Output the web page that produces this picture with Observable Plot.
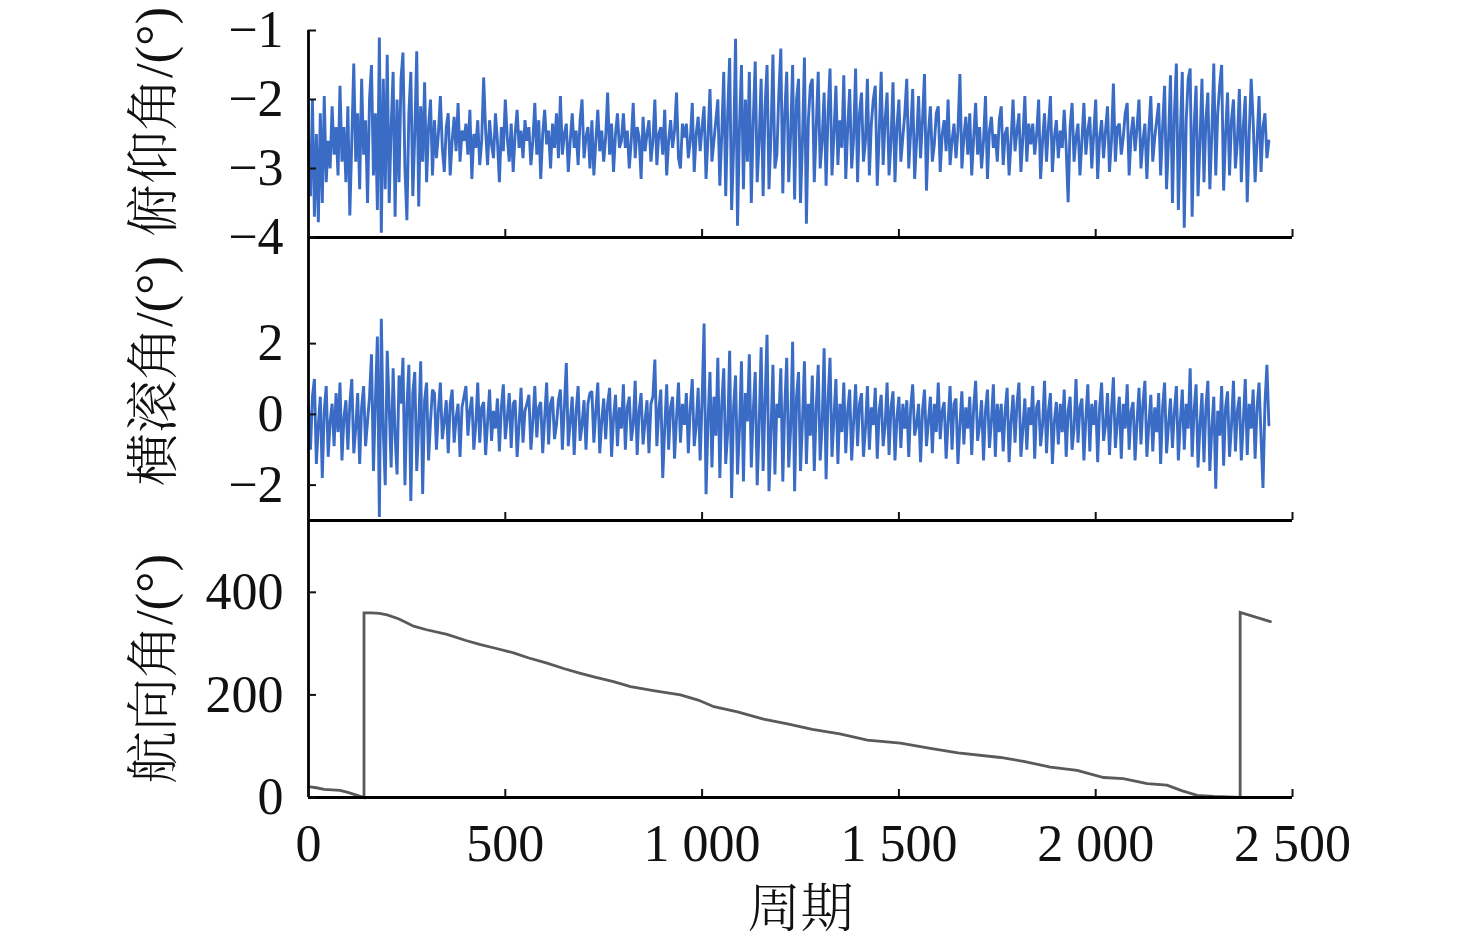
<!DOCTYPE html>
<html><head><meta charset="utf-8">
<script src="https://cdn.jsdelivr.net/npm/d3@7"></script>
<script src="https://cdn.jsdelivr.net/npm/@observablehq/plot@0.6"></script>
<style>
body{margin:0;background:#fff;}
#chart{position:relative;width:1476px;height:945px;}
#chart svg{position:absolute;left:0;overflow:visible;}
</style></head><body><div id="chart"></div>
<script>
// sampling step of the noisy series (cycles per sample)
const cycleStep = 5;

const pitch = [
-2.6,-3.4,-2.0,-3.7,-2.5,-3.78,-2.2,-3.5,-1.95,-3.2,-2.6,-3.0,-2.1,-2.8,-2.4,-3.1,
-1.8,-2.9,-2.4,-3.2,-2.1,-3.68,-2.6,-1.48,-2.9,-2.2,-3.3,-1.7,-2.8,-2.3,-3.5,-2.0,
-1.5,-3.1,-2.2,-3.6,-1.1,-3.93,-1.7,-3.3,-1.35,-3.5,-2.4,-1.6,-3.7,-2.0,-3.2,-1.7,
-1.32,-3.0,-3.75,-2.2,-1.6,-3.4,-2.5,-1.3,-3.55,-2.1,-2.9,-1.75,-3.2,-2.4,-2.0,-3.1,
-2.3,-2.85,-2.5,-1.95,-2.7,-3.05,-2.4,-2.2,-3.1,-2.6,-2.25,-2.75,-2.05,-2.9,-2.45,-2.6,
-2.35,-2.8,-2.15,-3.15,-2.5,-2.7,-2.3,-2.95,-2.6,-1.68,-2.45,-2.95,-2.3,-2.65,-2.85,-2.2,
-2.6,-3.2,-2.4,-2.75,-2.0,-2.55,-2.9,-2.35,-3.05,-2.5,-2.15,-2.7,-2.45,-2.85,-2.3,-2.6,
-2.4,-2.95,-2.6,-2.05,-2.8,-2.3,-3.15,-2.5,-2.15,-2.65,-2.45,-3.0,-2.35,-2.7,-2.2,-2.85,
-1.95,-2.8,-2.5,-2.35,-3.05,-2.6,-2.2,-2.7,-2.45,-2.95,-2.3,-2.0,-2.85,-2.55,-2.4,-3.0,
-2.3,-3.1,-2.6,-2.15,-2.75,-2.45,-2.9,-2.55,-1.9,-2.8,-2.35,-3.05,-2.5,-2.2,-2.7,-2.6,
-2.2,-2.7,-2.45,-3.0,-2.6,-2.05,-2.85,-2.4,-2.55,-3.15,-2.25,-2.75,-2.5,-2.3,-2.9,-2.6,
-2.0,-2.95,-2.5,-2.4,-2.8,-2.15,-3.1,-2.6,-2.3,-2.7,-2.45,-1.9,-2.85,-3.0,-2.35,-2.55,
-2.35,-2.85,-2.6,-2.05,-3.05,-2.5,-2.25,-2.75,-2.4,-2.1,-3.15,-2.55,-1.85,-2.9,-2.6,-2.3,
-2.0,-3.25,-2.5,-1.6,-3.4,-2.2,-1.4,-3.6,-2.7,-1.12,-3.83,-2.4,-1.5,-3.3,-2.0,-2.9,
-1.6,-3.5,-2.3,-1.45,-3.2,-2.6,-1.7,-3.4,-2.1,-1.5,-3.3,-2.5,-1.35,-3.0,-2.8,-1.9,
-1.26,-3.36,-2.2,-1.6,-3.2,-2.5,-1.5,-3.45,-2.0,-1.7,-3.5,-2.6,-1.39,-3.8,-2.3,-1.8,
-1.7,-3.2,-2.4,-1.6,-3.0,-2.6,-1.9,-3.25,-2.2,-1.55,-3.1,-2.5,-1.8,-2.95,-2.3,-2.7,
-1.65,-3.15,-2.4,-1.85,-3.0,-2.55,-1.55,-3.2,-2.2,-1.9,-2.9,-2.6,-1.7,-3.1,-2.35,-2.0,
-1.8,-3.25,-2.5,-1.6,-2.95,-2.3,-1.9,-3.1,-2.6,-1.75,-3.2,-2.4,-2.0,-2.9,-2.55,-2.2,
-1.7,-3.0,-2.45,-1.85,-3.15,-2.6,-1.95,-2.85,-2.3,-1.63,-3.32,-2.5,-2.1,-2.9,-2.65,-2.2,
-2.1,-3.05,-2.5,-2.3,-2.75,-2.0,-2.95,-2.6,-2.35,-2.85,-2.45,-1.63,-3.0,-2.55,-2.25,-2.8,
-2.2,-3.1,-2.55,-2.05,-2.8,-2.4,-3.0,-2.6,-1.95,-3.15,-2.45,-2.25,-2.7,-2.5,-2.9,-2.3,
-2.1,-2.95,-2.5,-2.4,-3.1,-2.6,-2.0,-2.75,-2.45,-2.2,-3.05,-2.55,-1.95,-2.9,-2.35,-2.65,
-2.35,-2.8,-2.5,-2.0,-3.15,-2.6,-2.2,-2.9,-2.4,-1.95,-3.05,-2.55,-2.3,-2.85,-2.45,-2.7,
-2.15,-2.7,-3.49,-2.4,-2.05,-2.9,-2.55,-2.35,-3.1,-2.6,-2.05,-2.8,-2.45,-2.25,-3.0,-2.5,
-2.0,-3.15,-2.55,-2.3,-2.85,-2.45,-2.1,-3.05,-2.6,-1.77,-2.9,-2.4,-2.35,-2.8,-2.55,-2.2,
-2.05,-3.1,-2.5,-2.25,-2.75,-2.4,-2.0,-3.0,-2.6,-2.35,-3.15,-2.45,-1.95,-2.9,-2.55,-2.3,
-2.05,-3.1,-2.4,-1.8,-3.3,-2.6,-1.65,-3.5,-2.2,-1.48,-3.6,-2.5,-1.6,-3.86,-2.3,-1.7,
-1.55,-3.7,-2.4,-1.8,-3.4,-2.6,-1.7,-3.2,-2.3,-1.9,-3.3,-2.5,-1.48,-3.1,-2.2,-1.8,
-1.5,-3.32,-2.5,-1.9,-3.1,-2.3,-2.0,-3.0,-2.6,-1.85,-3.2,-2.4,-1.95,-3.49,-2.5,-1.7,
-2.3,-3.2,-2.6,-1.95,-3.05,-2.4,-2.2,-2.85,-2.6
];

const roll = [
0.2,-1.0,0.5,1.0,-1.4,-0.3,0.5,-1.8,0.1,0.8,-1.2,-0.2,0.3,-0.9,0.6,-0.5,
0.9,-1.3,-0.1,0.4,-1.0,0.3,1.0,-1.1,-0.4,0.6,-1.4,0.2,0.8,-0.9,-0.2,0.5,
1.7,-1.6,0.4,2.2,-2.9,2.7,-0.5,-2.0,1.8,0.2,-1.5,1.3,-0.6,-1.7,1.1,0.3,
1.6,-2.0,0.2,1.4,-2.45,0.6,1.2,-1.6,-0.3,1.5,-2.25,0.4,0.9,-1.3,-0.2,0.7,
0.6,-1.0,0.1,0.9,-0.7,-0.2,0.4,-1.1,0.3,0.7,-0.8,-0.1,0.3,-1.2,0.2,0.5,
0.8,-0.6,0.1,0.5,-1.0,-0.3,0.9,-0.8,0.2,0.35,-1.15,-0.2,0.7,-0.75,0.1,-0.4,
0.45,-1.05,0.2,0.85,-0.7,-0.1,0.6,-0.95,0.3,0.4,-1.2,-0.3,0.75,-0.8,0.1,0.3,
0.55,-1.0,-0.2,0.8,-0.65,0.2,0.35,-1.1,-0.1,0.9,-0.85,0.3,0.5,-0.7,-0.3,0.4,
0.7,-1.0,0.2,1.45,-0.9,-0.2,0.5,-1.15,0.1,0.8,-0.75,-0.3,0.4,-1.0,0.3,0.6,
0.65,-0.8,0.1,0.9,-1.1,-0.2,0.45,-0.7,0.3,0.75,-1.2,-0.1,0.55,-0.9,0.2,-0.4,
0.85,-1.0,0.2,0.5,-0.75,-0.3,0.95,-1.15,0.1,0.6,-0.85,-0.2,0.4,-1.1,0.3,0.5,
1.55,-0.9,0.1,0.7,-1.8,-0.4,0.85,-1.0,0.2,0.5,-1.25,-0.1,0.9,-0.8,0.3,-0.3,
0.6,-1.1,0.2,1.0,-0.9,-0.3,0.75,-1.3,0.4,2.57,-2.26,-0.2,1.2,-1.5,0.5,-0.6,
1.6,-1.8,0.3,1.3,-1.4,-0.5,1.8,-2.36,0.2,1.1,-1.7,-0.4,1.5,-1.9,0.6,-0.2,
1.7,-1.5,0.1,1.2,-2.0,-0.3,1.9,-1.6,0.4,2.25,-2.17,-0.5,1.4,-1.7,0.3,-0.1,
1.3,-1.9,0.2,1.6,-1.5,-0.4,2.05,-2.17,0.5,1.2,-1.6,-0.2,1.5,-1.4,0.3,-0.6,
1.1,-1.6,0.2,1.4,-1.3,-0.3,1.87,-1.83,0.4,1.6,-1.2,-0.1,1.0,-1.4,0.3,-0.5,
0.9,-1.1,0.1,0.7,-1.3,-0.2,0.85,-0.9,0.3,0.6,-1.2,-0.4,0.8,-1.0,0.2,-0.3,
0.75,-1.25,0.1,0.55,-0.9,-0.3,0.9,-1.15,0.2,0.65,-1.3,-0.1,0.5,-0.95,0.3,-0.4,
0.4,-1.2,0.2,0.85,-0.6,-0.3,0.3,-1.35,0.1,0.7,-0.9,-0.2,0.5,-1.1,0.3,-0.5,
0.9,-0.7,0.1,0.35,-1.25,-0.2,0.8,-1.0,0.3,0.45,-1.4,-0.3,0.65,-0.85,0.2,-0.4,
0.5,-1.15,0.2,0.95,-0.75,-0.3,0.4,-1.3,0.1,0.7,-0.95,-0.2,0.85,-1.2,0.3,-0.5,
0.3,-1.05,0.1,0.75,-1.35,-0.2,0.55,-0.8,0.3,0.9,-1.2,-0.4,0.45,-1.0,0.2,-0.3,
0.8,-1.25,0.2,0.4,-0.9,-0.3,0.95,-1.1,0.1,0.6,-1.4,-0.2,0.35,-0.85,0.3,-0.5,
0.7,-1.2,0.1,0.5,-1.0,-0.4,1.0,-0.8,0.2,0.45,-1.3,-0.1,0.85,-1.05,0.3,-0.3,
0.4,-1.35,0.2,0.9,-0.75,-0.3,0.6,-1.15,0.1,1.05,-0.95,-0.2,0.5,-1.25,0.3,-0.4,
0.85,-1.0,0.1,0.35,-1.3,-0.2,0.75,-0.85,0.3,0.95,-1.2,-0.3,0.55,-1.05,0.2,-0.5,
0.6,-1.4,0.2,0.9,-1.1,-0.3,0.45,-0.95,0.1,0.8,-1.3,-0.2,0.7,-1.0,0.3,-0.4,
1.3,-1.2,0.1,0.85,-1.5,-0.3,0.6,-1.35,0.2,0.95,-1.6,-0.4,0.5,-2.1,0.1,-0.6,
0.8,-1.45,0.2,0.65,-1.2,-0.3,0.95,-1.05,0.1,0.5,-1.3,-0.2,1.0,-1.15,0.3,-0.4,
0.7,-1.25,0.2,0.9,-0.6,-2.08,0.3,1.4,-0.3
];

const headingCycle = [0,20,40,60,80,100,120,141,141,160,180,200,230,267,300,352,400,437,480,521,560,606,650,691,730,775,818,880,945,990,1030,1090,1156,1220,1280,1350,1420,1504,1580,1650,1758,1820,1885,1953,2020,2070,2131,2181,2220,2258,2300,2367,2367,2444];
const headingDeg   = [21,19,16,15,14,10,5,0,360,360,359,356,348,334,327,318,306,298,290,282,272,262,251,242,234,226,216,208,200,190,177,167,153,143,133,124,112,106,96,87,78,70,59,53,39,37,27,24,13,4,2,0,361,343];

const xTicks = [0,500,1000,1500,2000,2500];
const pitchTicks = [-1,-2,-3,-4];
const rollTicks = [-2,0,2];
const headingTicks = [0,200,400];
const yLabels = ["俯仰角/(°)","横滚角/(°)","航向角/(°)"];
const xLabel = "周期";

const FONT = '"Liberation Serif","Times New Roman","Noto Serif CJK SC","Noto Sans CJK SC",serif';
const fmtY = d => d3.format("d")(d);
const fmtX = d => d >= 1000 ? Math.floor(d/1000) + " " + String(d % 1000).padStart(3,"0") : String(d);

const pitchData = pitch.map((v,i) => ({c: i*cycleStep, v}));
const rollData = roll.map((v,i) => ({c: i*cycleStep, v}));
const headingData = headingCycle.map((c,i) => ({c, v: headingDeg[i]}));

function panel({data, yDomain, yTicks, top, height, mTop, mBottom, color, sw, label, labelDy, showX}) {
  const marks = [
    Plot.line(data, {x: "c", y: "v", stroke: color, strokeWidth: sw, strokeLinejoin: "miter", strokeMiterlimit: 2}),
    Plot.ruleX([0], {stroke: "#000", strokeWidth: 2.8}),
    Plot.ruleY([yDomain[0]], {stroke: "#000", strokeWidth: 2.8}),
    Plot.axisY({ticks: yTicks, tickSize: -8, tickPadding: 33, tickFormat: fmtY, fontSize: 52, strokeWidth: 2, label: null}),
    Plot.axisX({ticks: xTicks, tickSize: -8, tickPadding: 35, tickFormat: showX ? fmtX : () => "", fontSize: 52, strokeWidth: 2, label: null}),
    Plot.text([label], {frameAnchor: "left", textAnchor: "middle", lineAnchor: "middle", dx: -153, dy: labelDy, rotate: -90, fontSize: 53, fontWeight: 300, fill: "#111"})
  ];
  if (showX) marks.push(Plot.text([xLabel], {frameAnchor: "bottom", textAnchor: "middle", lineAnchor: "middle", dy: 113, fontSize: 53, fontWeight: 300, fill: "#111"}));
  const svg = Plot.plot({
    width: 1476, height, marginLeft: 308, marginRight: 184, marginTop: mTop, marginBottom: mBottom,
    x: {domain: [0, 2500]},
    y: {domain: yDomain},
    style: {background: "transparent", fontFamily: FONT, color: "#111", overflow: "visible"},
    marks
  });
  svg.style.top = top + "px";
  document.getElementById("chart").appendChild(svg);
}

panel({data: pitchData, yDomain: [-4, -1], yTicks: pitchTicks, top: 0, height: 280, mTop: 30, mBottom: 43, color: "#3a6cc6", sw: 2.9, label: yLabels[0], labelDy: -12, showX: false});
panel({data: rollData, yDomain: [-3, 5], yTicks: rollTicks, top: 200, height: 360, mTop: 37, mBottom: 40, color: "#3a6cc6", sw: 2.9, label: yLabels[1], labelDy: -8, showX: false});
panel({data: headingData, yDomain: [0, 540], yTicks: headingTicks, top: 480, height: 465, mTop: 40, mBottom: 148, color: "#5a5a5a", sw: 2.8, label: yLabels[2], labelDy: 10, showX: true});
</script>
</body></html>
